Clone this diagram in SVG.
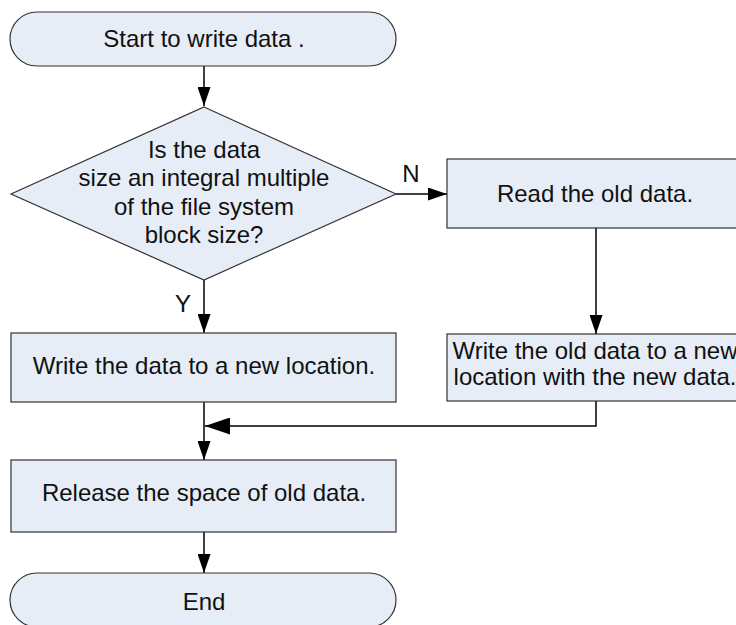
<svg xmlns="http://www.w3.org/2000/svg" width="736" height="625" viewBox="0 0 736 625">
  <style>
    .shape { fill: #e7edf7; stroke: #333333; stroke-width: 1.2; }
    .label { font-family: "Liberation Sans", Arial, sans-serif; font-size: 24px; fill: #111111; text-anchor: middle; }
    .edge { fill: none; stroke: #000000; stroke-width: 1.5; }
    .tag { font-family: "Liberation Sans", Arial, sans-serif; font-size: 24px; fill: #111111; text-anchor: middle; }
  </style>
  <defs>
    <marker id="arrow" viewBox="0 0 19 13" refX="19" refY="6.5" markerWidth="19" markerHeight="13" markerUnits="userSpaceOnUse" orient="auto">
      <path d="M0,0 L19,6.5 L0,13 Z" fill="#000000"/>
    </marker>
    <marker id="arrow-big" viewBox="0 0 25 17" refX="25" refY="8.5" markerWidth="25" markerHeight="17" markerUnits="userSpaceOnUse" orient="auto">
      <path d="M0,0 L25,8.5 L0,17 Z" fill="#000000"/>
    </marker>
  </defs>
  <rect width="736" height="625" fill="#ffffff"/>

  <g id="connectors">
    <line class="edge" x1="204" y1="66" x2="204" y2="106" marker-end="url(#arrow)"/>
    <line class="edge" x1="396" y1="194" x2="447" y2="194" marker-end="url(#arrow)"/>
    <line class="edge" x1="204" y1="280" x2="204" y2="333" marker-end="url(#arrow)"/>
    <line class="edge" x1="596" y1="228" x2="596" y2="334" marker-end="url(#arrow)"/>
    <polyline class="edge" points="596,401 596,426 205,426" marker-end="url(#arrow-big)"/>
    <line class="edge" x1="204" y1="402" x2="204" y2="460" marker-end="url(#arrow)"/>
    <line class="edge" x1="204" y1="532" x2="204" y2="573" marker-end="url(#arrow)"/>
    <text class="tag" x="411" y="182">N</text>
    <text class="tag" x="183" y="312">Y</text>
  </g>

  <g id="start">
    <rect class="shape" x="10" y="12" width="386" height="54" rx="27" ry="27"/>
    <text class="label" x="204" y="47">Start to write data .</text>
  </g>

  <g id="decision">
    <polygon class="shape" points="204,107 396,194 204,280 11,194"/>
    <text class="label" x="204" y="158">Is the data</text>
    <text class="label" x="204" y="186">size an integral multiple</text>
    <text class="label" x="204" y="215">of the file system</text>
    <text class="label" x="204" y="243">block size?</text>
  </g>

  <g id="read-old">
    <rect class="shape" x="447" y="159" width="296" height="69"/>
    <text class="label" x="595" y="202">Read the old data.</text>
  </g>

  <g id="write-new">
    <rect class="shape" x="11" y="333" width="385" height="69"/>
    <text class="label" x="204" y="374">Write the data to a new location.</text>
  </g>

  <g id="write-old">
    <rect class="shape" x="447" y="334" width="296" height="67"/>
    <text class="label" x="595" y="359">Write the old data to a new</text>
    <text class="label" x="595" y="385">location with the new data.</text>
  </g>

  <g id="release">
    <rect class="shape" x="11" y="460" width="385" height="72"/>
    <text class="label" x="204" y="501">Release the space of old data.</text>
  </g>

  <g id="end">
    <rect class="shape" x="10" y="573" width="386" height="54" rx="27" ry="27"/>
    <text class="label" x="204" y="610">End</text>
  </g>
</svg>
